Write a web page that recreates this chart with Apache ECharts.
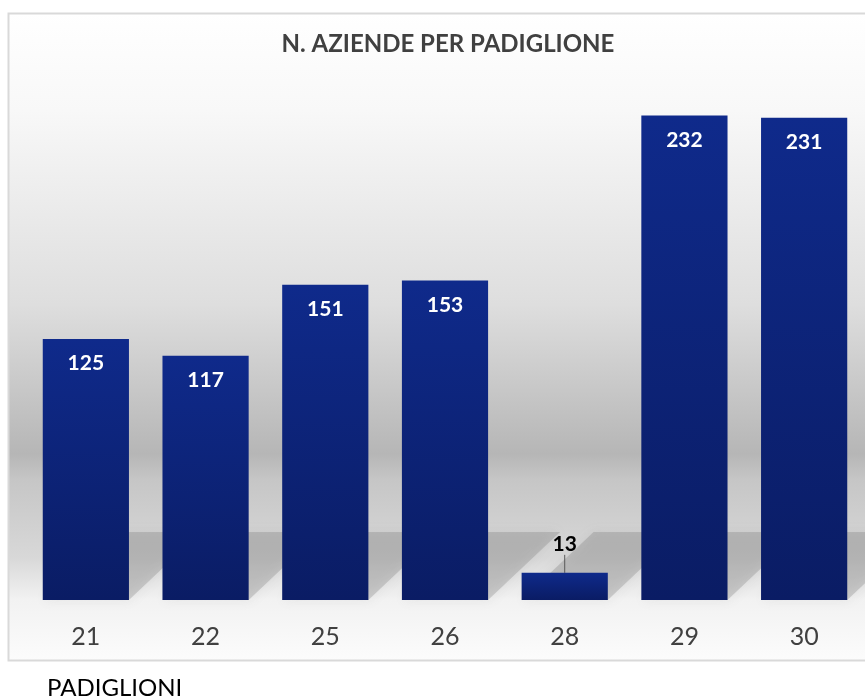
<!DOCTYPE html>
<html>
<head>
<meta charset="utf-8">
<title>N. Aziende per padiglione</title>
<script src="https://cdn.jsdelivr.net/npm/echarts@6/dist/echarts.min.js"></script>
<style>
  html, body { margin: 0; padding: 0; background: #fff; }
  #chart { width: 865px; height: 700px; }
</style>
</head>
<body>
<div id="chart"></div>
<script>
var padiglioni = ['21', '22', '25', '26', '28', '29', '30'];
var aziende = [125, 117, 151, 153, 13, 232, 231];
// small bars get their label outside, in black, with a guide line
var outsideLabel = [false, false, false, false, true, false, false];

var chart = echarts.init(document.getElementById('chart'));

var barData = aziende.map(function (v, i) {
    if (!outsideLabel[i]) return v;
    return {
        value: v,
        label: { position: 'top', distance: 4, color: '#000' },
        labelLine: { show: true }
    };
});

var shadowData = aziende.map(function (v, i) { return [i, v]; });

function renderShadow(params, api) {
    var base = api.coord([api.value(0), 0]);
    var w = api.size([1, 0])[0] * 0.72;
    var xl = base[0] - w / 2, xr = base[0] + w / 2, y = base[1];
    var h = 68, dx = 72;
    return {
        type: 'polygon',
        shape: { points: [[xl, y], [xr, y], [xr + dx, y - h], [xl + dx, y - h]] },
        style: {
            fill: 'rgba(110,110,110,0.26)',
            shadowBlur: 12,
            shadowColor: 'rgba(110,110,110,0.45)'
        }
    };
}

var option = {
    backgroundColor: '#fff',
    animation: false,
    title: [{
        text: 'N. AZIENDE PER PADIGLIONE',
        left: 443,
        textAlign: 'center',
        top: 27,
        textStyle: { fontFamily: 'Lato', fontWeight: 'bold', fontSize: 24, color: '#404040' }
    }, {
        text: 'PADIGLIONI',
        left: 42,
        top: 671,
        textStyle: { fontFamily: 'Lato', fontWeight: 'normal', fontSize: 24, color: '#000' }
    }],
    graphic: [{
        type: 'rect',
        z: -10,
        silent: true,
        shape: { x: 8.5, y: 13.5, width: 870, height: 647 },
        style: {
            stroke: '#d9d9d9',
            lineWidth: 2,
            fill: new echarts.graphic.LinearGradient(0, 0, 0, 1, [
                { offset: 0, color: '#ffffff' },
                { offset: 0.15, color: '#f8f8f8' },
                { offset: 0.45, color: '#dedede' },
                { offset: 0.68, color: '#b6b6b6' },
                { offset: 0.72, color: '#c6c6c6' },
                { offset: 0.84, color: '#d8d8d8' },
                { offset: 0.905, color: '#f2f2f2' },
                { offset: 1, color: '#fcfcfc' }
            ])
        }
    }],
    grid: { left: 26, right: 1, top: 78, bottom: 100, containLabel: false },
    xAxis: {
        type: 'category',
        data: padiglioni,
        axisLine: { show: false },
        axisTick: { show: false },
        axisLabel: { margin: 24, fontFamily: 'Lato', fontSize: 25, color: '#404040' }
    },
    yAxis: {
        type: 'value',
        min: 0,
        max: 250,
        show: false,
        splitLine: { show: false }
    },
    series: [{
        type: 'custom',
        z: 1,
        silent: true,
        renderItem: renderShadow,
        data: shadowData
    }, {
        type: 'bar',
        z: 2,
        barWidth: '72%',
        data: barData,
        itemStyle: {
            color: new echarts.graphic.LinearGradient(0, 0, 0, 1, [
                { offset: 0, color: '#0f2a8b' },
                { offset: 1, color: '#0a1c64' }
            ])
        },
        label: {
            show: true,
            position: 'insideTop',
            distance: 14,
            fontFamily: 'Lato',
            fontWeight: 'bold',
            fontSize: 21,
            color: '#fff'
        },
        labelLayout: function (params) {
            if (outsideLabel[params.dataIndex]) return { dy: -14 };
        },
        labelLine: { lineStyle: { color: '#595959', width: 1 } }
    }]
};

chart.setOption(option);
</script>
</body>
</html>
